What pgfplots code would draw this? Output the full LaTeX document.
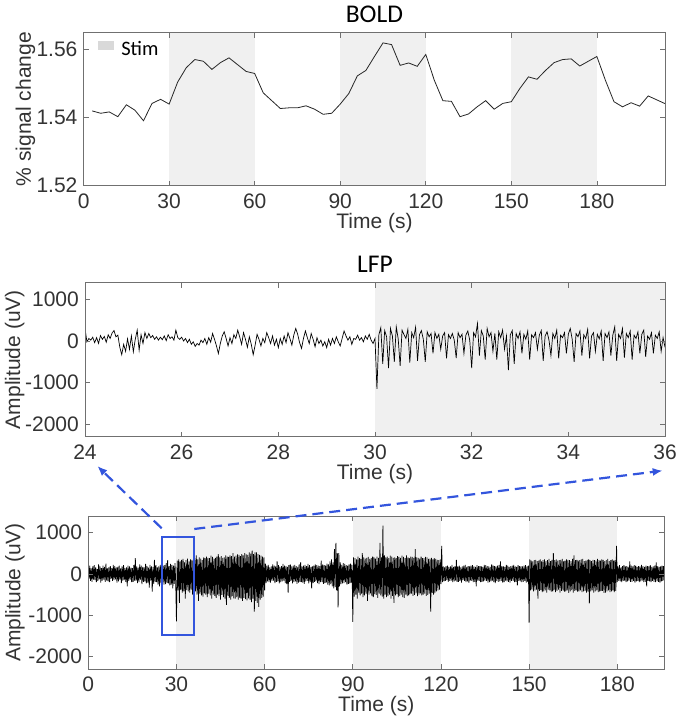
\documentclass[border=0pt]{standalone}
\usepackage{pgfplots}
\pgfplotsset{compat=1.18}
\usetikzlibrary{arrows.meta}
\usepackage{fontspec}
\setmainfont{Liberation Sans}
\newfontfamily\carlito{Carlito}
\definecolor{shade}{HTML}{F0F0F0}
\definecolor{stimgray}{HTML}{D9D9D9}
\definecolor{axgray}{HTML}{707070}
\definecolor{txtgray}{HTML}{333333}
\definecolor{annblue}{HTML}{3355DD}
\begin{document}
\begin{tikzpicture}
\useasboundingbox (0pt,0pt) rectangle (677pt,720pt);
\pgfplotsset{
  every axis/.append style={
    scale only axis,
    axis on top,
    axis line style={axgray, line width=0.6pt},
    tick style={axgray, line width=0.6pt},
    major tick length=5pt,
    tick align=inside,
    ticklabel style={font=\fontsize{21}{21}\selectfont, text=txtgray, inner sep=0pt},
    label style={font=\fontsize{21}{21}\selectfont, text=txtgray, inner sep=0pt},
    /pgf/number format/assume math mode=true,
    /pgf/number format/1000 sep={},
    xticklabel style={yshift=-8pt},
    yticklabel style={xshift=-6pt},
    xlabel style={yshift=-4pt},
    every axis title shift=0pt,
    title style={font=\carlito\fontsize{25.5}{25.5}\selectfont, inner sep=0pt, anchor=base, at={(axis description cs:0.5,1)}, yshift=10.5pt},
  },
}
% ---------------- BOLD ----------------
\begin{axis}[
  at={(83.6pt,534.3pt)}, anchor=south west,
  width=581.7pt, height=153pt,
  xmin=0, xmax=204, ymin=1.52, ymax=1.565,
  xtick={0,30,60,90,120,150,180},
  ytick={1.52,1.54,1.56},
  scaled y ticks=false,
  yticklabel style={/pgf/number format/fixed, /pgf/number format/precision=2, /pgf/number format/fixed zerofill},
  xlabel={Time (s)},
  ylabel={\% signal change},
  ylabel style={at={(axis description cs:-0.083,0.5)}, anchor=south},
  title={BOLD},
  legend style={at={(axis description cs:0,1)}, anchor=north west, draw=none, fill=none, inner sep=0pt, outer sep=0pt,
    nodes={inner sep=0pt, text=black}, xshift=14.7pt, yshift=-8pt},
]
\addplot[fill=shade, draw=none, area legend,
  legend image code/.code={\fill[stimgray] (0pt,-1pt) rectangle (15.7pt,8pt); \path (23pt,0pt);}]
  coordinates {(30,1.52) (30,1.565) (60,1.565) (60,1.52)} -- cycle;
\addlegendentry{\carlito\fontsize{20.5}{20.5}\selectfont Stim}
\addplot[fill=shade, draw=none, forget plot] coordinates {(90,1.52) (90,1.565) (120,1.565) (120,1.52)} -- cycle;
\addplot[fill=shade, draw=none, forget plot] coordinates {(150,1.52) (150,1.565) (180,1.565) (180,1.52)} -- cycle;
\addplot[color=black!85, line width=0.8pt, forget plot] coordinates {
(3,1.5420)(6,1.5413)(9,1.5417)(12,1.5403)(15,1.5438)(18,1.5422)(21,1.5391)(24,1.5442)(27,1.5454)(30,1.5440)
(33,1.5505)(36,1.5547)(39,1.5571)(42,1.5566)(45,1.5542)(48,1.5562)(51,1.5576)(54,1.5556)(57,1.5536)(60,1.5530)
(63,1.5473)(66,1.5450)(69,1.5427)(72,1.5429)(75,1.5429)(78,1.5435)(81,1.5425)(84,1.5410)(87,1.5413)(90,1.5440)
(93,1.5471)(96,1.5523)(99,1.5539)(102,1.5580)(105,1.5620)(108,1.5615)(111,1.5554)(114,1.5561)(117,1.5551)(120,1.5586)
(123,1.5510)(126,1.5450)(129,1.5448)(132,1.5403)(135,1.5411)(138,1.5432)(141,1.5450)(144,1.5425)(147,1.5442)(150,1.5447)
(153,1.5486)(156,1.5520)(159,1.5513)(162,1.5539)(165,1.5562)(168,1.5571)(171,1.5573)(174,1.5552)(177,1.5566)(180,1.5580)
(183,1.5510)(186,1.5447)(189,1.5432)(192,1.5444)(195,1.5434)(198,1.5464)(204,1.5441)
};
\end{axis}
% ---------------- LFP zoom ----------------
\begin{axis}[
  at={(85pt,283.3pt)}, anchor=south west,
  width=580pt, height=154pt,
  xmin=24, xmax=36, ymin=-2300, ymax=1400,
  xtick={24,26,28,30,32,34,36},
  ytick={-2000,-1000,0,1000},
  scaled y ticks=false,
  xlabel={Time (s)},
  ylabel={Amplitude (uV)},
  ylabel style={at={(axis description cs:-0.104,0.5)}, anchor=south},
  title={LFP},
]
\addplot[fill=shade, draw=none] coordinates {(30,-2300) (30,1400) (36,1400) (36,-2300)} -- cycle;
\addplot[black, line width=0.7pt] coordinates {
(24.00,300)(24.04,-20)(24.08,60)(24.12,20)(24.16,90)(24.20,-40)(24.24,80)(24.28,-60)(24.32,130)(24.36,40)
(24.40,110)(24.44,-30)(24.48,150)(24.52,60)(24.56,190)(24.60,250)(24.64,100)(24.68,140)(24.72,-150)(24.76,-330)
(24.80,-80)(24.84,-250)(24.88,50)(24.92,-200)(24.96,120)(25.00,-260)(25.04,40)(25.08,260)(25.12,-220)(25.16,150)
(25.20,-60)(25.24,200)(25.28,60)(25.32,180)(25.36,80)(25.40,130)(25.44,40)(25.48,100)(25.52,20)(25.56,90)
(25.60,30)(25.64,120)(25.68,10)(25.72,150)(25.76,60)(25.80,100)(25.84,20)(25.88,260)(25.92,80)(25.96,40)
(26.00,90)(26.04,0)(26.08,60)(26.12,-40)(26.16,40)(26.20,-80)(26.24,-20)(26.28,-130)(26.32,-60)(26.36,-100)
(26.40,20)(26.44,-40)(26.48,60)(26.52,-80)(26.56,80)(26.60,-30)(26.64,180)(26.68,40)(26.72,-120)(26.76,-300)
(26.80,-60)(26.84,120)(26.88,220)(26.92,60)(26.96,-120)(27.00,80)(27.04,-60)(27.08,150)(27.12,60)(27.16,260)
(27.20,100)(27.24,-80)(27.28,200)(27.32,40)(27.36,-150)(27.40,100)(27.44,-80)(27.48,-330)(27.52,-100)(27.56,160)
(27.60,40)(27.64,-120)(27.68,60)(27.72,-40)(27.76,200)(27.80,80)(27.84,-60)(27.88,120)(27.92,-100)(27.96,40)
(28.00,-160)(28.04,60)(28.08,-80)(28.12,120)(28.16,-40)(28.20,200)(28.24,60)(28.28,-100)(28.32,140)(28.36,300)
(28.40,160)(28.44,-40)(28.48,-180)(28.52,60)(28.56,240)(28.60,80)(28.64,-60)(28.68,180)(28.72,40)(28.76,-140)
(28.80,80)(28.84,-60)(28.88,20)(28.92,-120)(28.96,-20)(29.00,-160)(29.04,40)(29.08,-100)(29.12,60)(29.16,-60)
(29.20,100)(29.24,-20)(29.28,-120)(29.32,60)(29.36,240)(29.40,120)(29.44,20)(29.48,100)(29.52,-80)(29.56,60)
(29.60,40)(29.64,140)(29.68,20)(29.72,80)(29.76,-20)(29.80,120)(29.84,40)(29.88,160)(29.92,20)(29.96,-60)
(30.00,60)(30.04,-1150)(30.08,150)(30.12,320)(30.16,-550)(30.20,250)(30.24,100)(30.28,-650)(30.32,300)(30.36,120)
(30.40,-500)(30.44,340)(30.48,50)(30.52,-600)(30.56,260)(30.60,150)(30.64,60)(30.68,280)(30.72,-520)(30.76,200)
(30.80,80)(30.84,330)(30.88,-480)(30.92,150)(30.96,250)(31.00,40)(31.04,-500)(31.08,220)(31.12,100)(31.16,180)
(31.20,-300)(31.24,200)(31.28,60)(31.32,160)(31.36,-200)(31.40,120)(31.44,200)(31.48,-420)(31.52,150)(31.56,60)
(31.60,180)(31.64,20)(31.68,-410)(31.72,200)(31.76,80)(31.80,160)(31.84,-300)(31.88,140)(31.92,240)(31.96,20)
(32.00,-650)(32.04,200)(32.08,100)(32.12,420)(32.16,-350)(32.20,250)(32.24,120)(32.28,-450)(32.32,300)(32.36,100)
(32.40,200)(32.44,-250)(32.48,180)(32.52,-450)(32.56,220)(32.60,80)(32.64,260)(32.68,-200)(32.72,120)(32.76,-700)
(32.80,150)(32.84,250)(32.88,-550)(32.92,180)(32.96,60)(33.00,220)(33.04,-300)(33.08,160)(33.12,40)(33.16,240)
(33.20,-450)(33.24,150)(33.28,80)(33.32,200)(33.36,-200)(33.40,140)(33.44,250)(33.48,-480)(33.52,120)(33.56,220)
(33.60,20)(33.64,-350)(33.68,180)(33.72,60)(33.76,260)(33.80,-420)(33.84,140)(33.88,80)(33.92,200)(33.96,-300)
(34.00,160)(34.04,300)(34.08,40)(34.12,-500)(34.16,180)(34.20,100)(34.24,240)(34.28,-350)(34.32,150)(34.36,60)
(34.40,280)(34.44,-420)(34.48,120)(34.52,200)(34.56,-250)(34.60,160)(34.64,50)(34.68,240)(34.72,-480)(34.76,180)
(34.80,80)(34.84,220)(34.88,-350)(34.92,140)(34.96,340)(35.00,-480)(35.04,160)(35.08,60)(35.12,300)(35.16,-400)
(35.20,180)(35.24,80)(35.28,240)(35.32,-450)(35.36,140)(35.40,60)(35.44,220)(35.48,-300)(35.52,160)(35.56,260)
(35.60,-380)(35.64,120)(35.68,40)(35.72,200)(35.76,-300)(35.80,140)(35.84,60)(35.88,220)(35.92,-250)(35.96,80)
(36.00,-150)
};
\end{axis}
% ---------------- LFP full ----------------
\begin{axis}[
  at={(88.3pt,51pt)}, anchor=south west,
  width=576pt, height=153pt,
  xmin=0, xmax=196, ymin=-2300, ymax=1400,
  xtick={0,30,60,90,120,150,180},
  ytick={-2000,-1000,0,1000},
  scaled y ticks=false,
  xlabel={Time (s)},
  ylabel={Amplitude (uV)},
  ylabel style={at={(axis description cs:-0.11,0.5)}, anchor=south},
]
\addplot[fill=shade, draw=none] coordinates {(30,-2300) (30,1400) (60,1400) (60,-2300)} -- cycle;
\addplot[fill=shade, draw=none] coordinates {(90,-2300) (90,1400) (120,1400) (120,-2300)} -- cycle;
\addplot[fill=shade, draw=none] coordinates {(150,-2300) (150,1400) (180,1400) (180,-2300)} -- cycle;
\addplot[black, line width=0.75pt] coordinates {
(0,150)(0.25,-120)(0.5,200)(0.75,-170)
(1,130)(1.25,-190)(1.5,180)(1.75,-140)
(2,210)(2.25,-150)(2.5,160)(2.75,-200)
(3,120)(3.25,-170)(3.5,230)(3.75,-130)
(4,180)(4.25,-210)(4.5,140)(4.75,-160)
(5,200)(5.25,-140)(5.5,170)(5.75,-190)
(6,250)(6.25,-160)(6.5,130)(6.75,-180)
(7,160)(7.25,-200)(7.5,190)(7.75,-120)
(8,140)(8.25,-170)(8.5,220)(8.75,-150)
(9,190)(9.25,-130)(9.5,160)(9.75,-210)
(10,170)(10.25,-180)(10.5,200)(10.75,-140)
(11,130)(11.25,-220)(11.5,180)(11.75,-160)
(12,210)(12.25,-150)(12.5,140)(12.75,-190)
(13,160)(13.25,-300)(13.5,200)(13.75,-170)
(14,180)(14.25,-140)(14.5,150)(14.75,-200)
(15,140)(15.25,-190)(15.5,210)(15.75,-160)
(16,380)(16.25,-170)(16.5,180)(16.75,-220)
(17,150)(17.25,-200)(17.5,230)(17.75,-140)
(18,200)(18.25,-250)(18.5,170)(18.75,-190)
(19,160)(19.25,-180)(19.5,240)(19.75,-230)
(20,190)(20.25,-210)(20.5,150)(20.75,-330)
(21,220)(21.25,-160)(21.5,180)(21.75,-430)
(22,170)(22.25,-240)(22.5,340)(22.75,-190)
(23,210)(23.25,-200)(23.5,160)(23.75,-260)
(24,180)(24.25,-300)(24.5,220)(24.75,-210)
(25,240)(25.25,-190)(25.5,200)(25.75,-260)
(26,210)(26.25,-250)(26.5,260)(26.75,-220)
(27,330)(27.25,-230)(27.5,190)(27.75,-280)
(28,240)(28.25,-260)(28.5,220)(28.75,-350)
(29,200)(29.25,-240)(29.5,260)(29.75,-220)
(30,-1150)(30.25,320)(30.5,-400)(30.75,350)
(31,-700)(31.25,300)(31.5,-380)(31.75,340)
(32,-450)(32.25,360)(32.5,-420)(32.75,280)
(33,-600)(33.25,330)(33.5,-390)(33.75,370)
(34,-420)(34.25,300)(34.5,-450)(34.75,350)
(35,-380)(35.25,340)(35.5,-500)(35.75,310)
(36,-450)(36.25,380)(36.5,-420)(36.75,450)
(37,-500)(37.25,350)(37.5,-650)(37.75,400)
(38,-480)(38.25,370)(38.5,-520)(38.75,330)
(39,-550)(39.25,400)(39.5,-470)(39.75,380)
(40,-500)(40.25,420)(40.5,-560)(40.75,390)
(41,-480)(41.25,380)(41.5,-520)(41.75,440)
(42,-600)(42.25,410)(42.5,-500)(42.75,370)
(43,-530)(43.25,390)(43.5,-580)(43.75,420)
(44,-500)(44.25,480)(44.5,-540)(44.75,400)
(45,-620)(45.25,430)(45.5,-510)(45.75,390)
(46,-560)(46.25,400)(46.5,-600)(46.75,450)
(47,-750)(47.25,420)(47.5,-530)(47.75,410)
(48,-580)(48.25,450)(48.5,-620)(48.75,430)
(49,-540)(49.25,500)(49.5,-590)(49.75,420)
(50,-600)(50.25,440)(50.5,-560)(50.75,470)
(51,-620)(51.25,460)(51.5,-580)(51.75,430)
(52,-600)(52.25,480)(52.5,-650)(52.75,450)
(53,-580)(53.25,500)(53.5,-610)(53.75,470)
(54,-640)(54.25,460)(54.5,-590)(54.75,520)
(55,-620)(55.25,490)(55.5,-680)(55.75,565)
(56,-600)(56.25,480)(56.5,-910)(56.75,520)
(57,-650)(57.25,520)(57.5,-700)(57.75,480)
(58,-800)(58.25,460)(58.5,-620)(58.75,440)
(59,-580)(59.25,420)(59.5,-550)(59.75,400)
(60,-400)(60.25,250)(60.5,-220)(60.75,200)
(61,-180)(61.25,220)(61.5,-200)(61.75,160)
(62,-210)(62.25,180)(62.5,-170)(62.75,230)
(63,-160)(63.25,200)(63.5,-220)(63.75,180)
(64,-190)(64.25,300)(64.5,-180)(64.75,210)
(65,-230)(65.25,170)(65.5,-200)(65.75,190)
(66,-180)(66.25,240)(66.5,-160)(66.75,200)
(67,-220)(67.25,190)(67.5,-250)(67.75,170)
(68,-450)(68.25,210)(68.5,-190)(68.75,230)
(69,-170)(69.25,180)(69.5,-230)(69.75,200)
(70,-200)(70.25,220)(70.5,-180)(70.75,190)
(71,-240)(71.25,170)(71.5,-210)(71.75,230)
(72,-190)(72.25,280)(72.5,-200)(72.75,180)
(73,-210)(73.25,200)(73.5,-240)(73.75,220)
(74,-180)(74.25,190)(74.5,-170)(74.75,240)
(75,-230)(75.25,210)(75.5,-200)(75.75,170)
(76,-350)(76.25,180)(76.5,-220)(76.75,200)
(77,-190)(77.25,230)(77.5,-180)(77.75,210)
(78,-220)(78.25,200)(78.5,-250)(78.75,190)
(79,-200)(79.25,320)(79.5,-190)(79.75,230)
(80,-240)(80.25,210)(80.5,-220)(80.75,200)
(81,-210)(81.25,250)(81.5,-260)(81.75,230)
(82,-280)(82.25,300)(82.5,-250)(82.75,350)
(83,-300)(83.25,280)(83.5,-350)(83.75,600)
(84,-320)(84.25,750)(84.5,-400)(84.75,500)
(85,-810)(85.25,500)(85.5,-300)(85.75,280)
(86,-250)(86.25,220)(86.5,-230)(86.75,260)
(87,-220)(87.25,240)(87.5,-200)(87.75,210)
(88,-260)(88.25,200)(88.5,-240)(88.75,230)
(89,-230)(89.25,250)(89.5,-210)(89.75,220)
(90,-1160)(90.25,400)(90.5,-550)(90.75,380)
(91,-500)(91.25,350)(91.5,-600)(91.75,420)
(92,-450)(92.25,380)(92.5,-520)(92.75,360)
(93,-480)(93.25,500)(93.5,-560)(93.75,400)
(94,-520)(94.25,370)(94.5,-480)(94.75,390)
(95,-650)(95.25,410)(95.5,-500)(95.75,360)
(96,-470)(96.25,380)(96.5,-540)(96.75,420)
(97,-560)(97.25,400)(97.5,-490)(97.75,370)
(98,-510)(98.25,420)(98.5,-580)(98.75,390)
(99,-480)(99.25,750)(99.5,-520)(99.75,400)
(100,-550)(100.25,1170)(100.5,-600)(100.75,450)
(101,-500)(101.25,400)(101.5,-560)(101.75,420)
(102,-540)(102.25,380)(102.5,-500)(102.75,440)
(103,-600)(103.25,420)(103.5,-530)(103.75,390)
(104,-700)(104.25,400)(104.5,-520)(104.75,380)
(105,-490)(105.25,430)(105.5,-560)(105.75,410)
(106,-530)(106.25,390)(106.5,-500)(106.75,440)
(107,-560)(107.25,410)(107.5,-580)(107.75,380)
(108,-500)(108.25,450)(108.5,-540)(108.75,400)
(109,-520)(109.25,380)(109.5,-490)(109.75,420)
(110,-480)(110.25,410)(110.5,-530)(110.75,390)
(111,-510)(111.25,600)(111.5,-470)(111.75,400)
(112,-540)(112.25,390)(112.5,-500)(112.75,370)
(113,-470)(113.25,420)(113.5,-520)(113.75,380)
(114,-500)(114.25,380)(114.5,-480)(114.75,410)
(115,-530)(115.25,400)(115.5,-510)(115.75,360)
(116,-480)(116.25,370)(116.5,-915)(116.75,390)
(117,-460)(117.25,350)(117.5,-500)(117.75,380)
(118,-450)(118.25,360)(118.5,-420)(118.75,340)
(119,-400)(119.25,330)(119.5,-380)(119.75,350)
(120,-250)(120.25,680)(120.5,-200)(120.75,180)
(121,-180)(121.25,160)(121.5,-170)(121.75,190)
(122,-150)(122.25,200)(122.5,-190)(122.75,170)
(123,-170)(123.25,180)(123.5,-160)(123.75,220)
(124,-200)(124.25,170)(124.5,-180)(124.75,190)
(125,-160)(125.25,340)(125.5,-190)(125.75,180)
(126,-190)(126.25,200)(126.5,-170)(126.75,160)
(127,-210)(127.25,180)(127.5,-150)(127.75,200)
(128,-170)(128.25,220)(128.5,-200)(128.75,170)
(129,-180)(129.25,190)(129.5,-210)(129.75,180)
(130,-160)(130.25,200)(130.5,-170)(130.75,210)
(131,-200)(131.25,180)(131.5,-190)(131.75,170)
(132,-300)(132.25,210)(132.5,-160)(132.75,190)
(133,-170)(133.25,190)(133.5,-200)(133.75,180)
(134,-190)(134.25,170)(134.5,-180)(134.75,220)
(135,-160)(135.25,210)(135.5,-170)(135.75,190)
(136,-210)(136.25,180)(136.5,-200)(136.75,170)
(137,-180)(137.25,230)(137.5,-160)(137.75,200)
(138,-200)(138.25,190)(138.5,-220)(138.75,180)
(139,-170)(139.25,200)(139.5,-190)(139.75,210)
(140,-180)(140.25,300)(140.5,-170)(140.75,190)
(141,-210)(141.25,180)(141.5,-200)(141.75,170)
(142,-160)(142.25,220)(142.5,-180)(142.75,200)
(143,-190)(143.25,170)(143.5,-210)(143.75,190)
(144,-170)(144.25,200)(144.5,-160)(144.75,220)
(145,-200)(145.25,180)(145.5,-190)(145.75,170)
(146,-280)(146.25,210)(146.5,-170)(146.75,190)
(147,-180)(147.25,190)(147.5,-200)(147.75,180)
(148,-190)(148.25,200)(148.5,-170)(148.75,210)
(149,-210)(149.25,180)(149.5,-190)(149.75,200)
(150,-1180)(150.25,350)(150.5,-400)(150.75,320)
(151,-380)(151.25,300)(151.5,-420)(151.75,330)
(152,-400)(152.25,340)(152.5,-380)(152.75,310)
(153,-600)(153.25,320)(153.5,-410)(153.75,350)
(154,-390)(154.25,300)(154.5,-440)(154.75,330)
(155,-420)(155.25,350)(155.5,-400)(155.75,310)
(156,-450)(156.25,330)(156.5,-380)(156.75,360)
(157,-400)(157.25,310)(157.5,-430)(157.75,340)
(158,-420)(158.25,500)(158.5,-390)(158.75,330)
(159,-440)(159.25,350)(159.5,-410)(159.75,320)
(160,-380)(160.25,330)(160.5,-450)(160.75,340)
(161,-410)(161.25,360)(161.5,-400)(161.75,310)
(162,-430)(162.25,320)(162.5,-420)(162.75,350)
(163,-400)(163.25,340)(163.5,-460)(163.75,330)
(164,-420)(164.25,310)(164.5,-390)(164.75,360)
(165,-450)(165.25,450)(165.5,-410)(165.75,330)
(166,-400)(166.25,340)(166.5,-430)(166.75,320)
(167,-420)(167.25,330)(167.5,-400)(167.75,350)
(168,-440)(168.25,360)(168.5,-420)(168.75,310)
(169,-410)(169.25,320)(169.5,-450)(169.75,340)
(170,-430)(170.25,350)(170.5,-710)(170.75,330)
(171,-420)(171.25,310)(171.5,-400)(171.75,340)
(172,-450)(172.25,330)(172.5,-420)(172.75,320)
(173,-400)(173.25,360)(173.5,-440)(173.75,330)
(174,-430)(174.25,320)(174.5,-410)(174.75,350)
(175,-410)(175.25,340)(175.5,-460)(175.75,310)
(176,-450)(176.25,330)(176.5,-420)(176.75,360)
(177,-400)(177.25,310)(177.5,-440)(177.75,330)
(178,-420)(178.25,350)(178.5,-400)(178.75,320)
(179,-440)(179.25,330)(179.5,-410)(179.75,680)
(180,-200)(180.25,180)(180.5,-170)(180.75,210)
(181,-180)(181.25,160)(181.5,-200)(181.75,190)
(182,-170)(182.25,210)(182.5,-160)(182.75,180)
(183,-200)(183.25,190)(183.5,-180)(183.75,170)
(184,-160)(184.25,300)(184.5,-190)(184.75,200)
(185,-190)(185.25,180)(185.5,-170)(185.75,210)
(186,-210)(186.25,200)(186.5,-180)(186.75,170)
(187,-170)(187.25,190)(187.5,-200)(187.75,180)
(188,-180)(188.25,220)(188.5,-160)(188.75,190)
(189,-200)(189.25,170)(189.5,-190)(189.75,200)
(190,-300)(190.25,190)(190.5,-170)(190.75,180)
(191,-180)(191.25,210)(191.5,-200)(191.75,170)
(192,-170)(192.25,180)(192.5,-190)(192.75,200)
(193,-200)(193.25,280)(193.5,-180)(193.75,190)
(194,-190)(194.25,170)(194.5,-210)(194.75,180)
(195,-180)(195.25,200)(195.5,-170)(195.75,190)
(196,-150)
};
\draw[annblue, line width=2pt] (axis cs:25,-1480) rectangle (axis cs:36,890);
\end{axis}
% annotation arrows
\draw[annblue, line width=2.2pt, dash pattern=on 11pt off 6pt, -{Latex[length=10pt,width=8pt]}] (161.7pt,191.7pt) -- (97.3pt,254pt);
\draw[annblue, line width=2.2pt, dash pattern=on 11pt off 6pt, -{Latex[length=10pt,width=8pt]}] (194.3pt,191pt) -- (662.7pt,249.3pt);
\end{tikzpicture}
\end{document}
